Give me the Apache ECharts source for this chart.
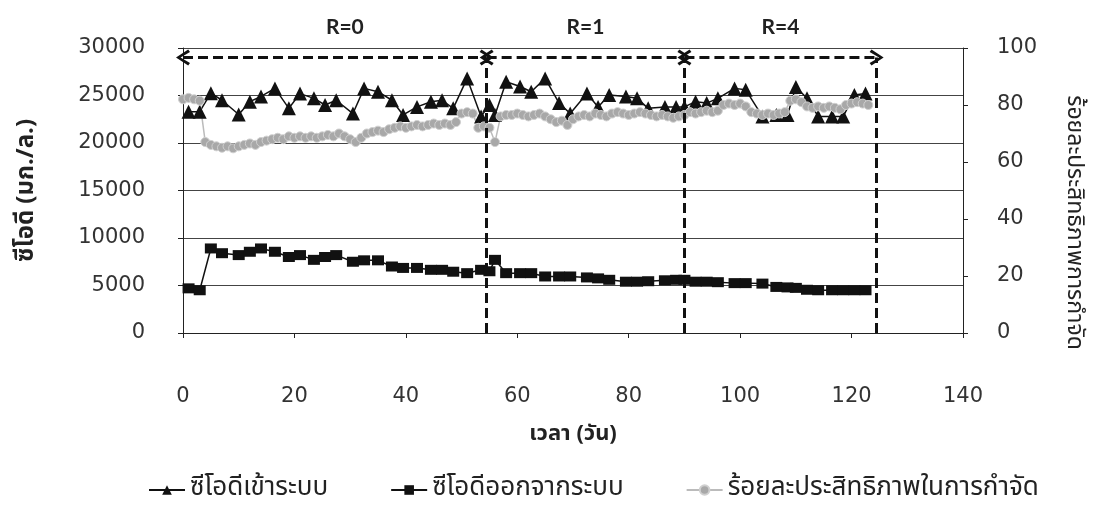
<!DOCTYPE html>
<html>
<head>
<meta charset="utf-8">
<script src="https://cdn.jsdelivr.net/npm/echarts@6/dist/echarts.min.js"></script>
<style>
  html, body { margin: 0; padding: 0; background: #fff; }
  #chart { width: 1107px; height: 514px; }
</style>
</head>
<body>
<div id="chart"></div>
<script>
// วันที่ของจุดซีโอดี (วัน)
const codDays = [1, 3, 5, 7, 10, 12, 14, 16.5, 19, 21, 23.5, 25.5, 27.5, 30.5, 32.5, 35, 37.5, 39.5, 42, 44.5,
    46.5, 48.5, 51, 53.5, 55, 56, 58, 60.5, 62.5, 65, 67.5, 69.5, 72.5, 74.5, 76.5, 79.5, 81.5, 83.5, 86.5, 88.5,
    90, 92, 94, 96, 99, 101, 104, 106.5, 108.5, 110, 112, 114, 116.5, 118.5, 120.5, 122.5];

// ซีโอดีเข้าระบบ (มก./ล.)
const codIn = [23300, 23300, 25250, 24500, 23000, 24350, 24900, 25750, 23650, 25200, 24700, 24000, 24500, 23100,
    25750, 25400, 24500, 22950, 23800, 24350, 24500, 23650, 26800, 22800, 24000, 22950, 26450, 25950, 25400, 26800,
    24200, 23100, 25200, 23800, 25050, 24900, 24700, 23650, 23800, 23800, 23800, 24350, 24200, 24700, 25750, 25600,
    22800, 22950, 22950, 25900, 24700, 22800, 22800, 22800, 25050, 25200];

// ซีโอดีออกจากระบบ (มก./ล.)
const codOut = [4700, 4500, 8900, 8400, 8200, 8550, 8900, 8550, 8000, 8200, 7700, 8000, 8200, 7500, 7650, 7650,
    7000, 6850, 6850, 6650, 6650, 6450, 6300, 6650, 6500, 7700, 6300, 6300, 6300, 5950, 5950, 5950, 5850, 5750,
    5600, 5400, 5400, 5450, 5550, 5600, 5600, 5400, 5400, 5350, 5250, 5250, 5200, 4850, 4800, 4750, 4550, 4500,
    4500, 4500, 4500, 4500];

// ร้อยละประสิทธิภาพ รายวัน เริ่มวันที่ 0
const efficiency = [82, 82.5, 82, 81.5, 67, 66, 65.5, 65, 65.5, 64.8, 65.5, 66, 66.5, 66, 67,
    67.5, 68, 68.5, 68, 69, 68.5, 69, 68.5, 69, 68.5, 69, 69.5, 69, 70, 69, 68, 67, 68.5, 70,
    70.5, 71, 70.5, 71.5, 72, 72.5, 72, 72.5, 73, 72.5, 73, 73.5, 73, 73.5, 73, 74, 77, 77.5, 77,
    72, 72.5, 72, 67, 76, 76.5, 76.5, 77, 76.5, 76, 76.5, 77, 76, 75, 74, 74.5, 73,
    75, 76, 76.5, 76, 77, 76.5, 76, 77, 77.5, 77, 76.5, 77, 77.5, 77, 76.5, 76, 76.5, 76, 75.5, 76,
    76.5, 77.5, 77, 77.5, 78, 77.5, 78, 80, 80.5, 80, 80.5, 79.5, 77.5, 77, 76.5, 77, 76.5, 77, 77.5,
    81.5, 82, 81, 79.5, 79, 79.5, 79, 79.5, 79, 78.5, 80, 80.5, 81, 80.5, 80];

// ช่วงการทดลอง
const phaseBounds = [0, 54.5, 90, 124.5];
const phaseNames = ["R=0", "R=1", "R=4"];
const arrowLevel = 29000;

const thaiFont = "'Noto Sans Thai', 'Noto Sans Thai Looped', 'Noto Sans', 'DejaVu Sans', sans-serif";
const numFont = "'DejaVu Sans', sans-serif";

const chevron = "path://M5,0 L10,8 L8.4,9.2 L5,3 L1.6,9.2 L0,8 Z";

const markData = [];
for (let i = 0; i < phaseNames.length; i++) {
    markData.push([
        { coord: [phaseBounds[i], arrowLevel], symbol: chevron, symbolSize: [16, 14],
          label: { show: true, formatter: phaseNames[i], position: "middle", offset: [i === 0 ? 10 : 0, 0] } },
        { coord: [phaseBounds[i + 1], arrowLevel], symbol: chevron, symbolSize: [16, 14] },
    ]);
}
for (let i = 1; i < phaseBounds.length; i++) {
    markData.push([
        { coord: [phaseBounds[i], 0], symbol: "none", label: { show: false } },
        { coord: [phaseBounds[i], arrowLevel], symbol: "none" },
    ]);
}

const plain = (v) => String(v);

const chart = echarts.init(document.getElementById("chart"));
chart.setOption({
    animation: false,
    backgroundColor: "#fff",
    grid: { left: 183, right: 144, top: 48, bottom: 181 },
    legend: {
        bottom: 6,
        left: 143,
        itemWidth: 36,
        itemHeight: 12,
        itemGap: 62,
        textStyle: { fontFamily: thaiFont, fontSize: 26, color: "#222" },
        data: ["ซีโอดีเข้าระบบ", "ซีโอดีออกจากระบบ", "ร้อยละประสิทธิภาพในการกำจัด"],
    },
    xAxis: {
        type: "value",
        min: 0,
        max: 140,
        interval: 20,
        name: "เวลา (วัน)",
        nameLocation: "middle",
        nameGap: 92,
        nameTextStyle: { fontFamily: thaiFont, fontSize: 22, fontWeight: "bold", color: "#222" },
        axisLine: { lineStyle: { color: "#222", width: 1 } },
        axisTick: { length: 5, lineStyle: { color: "#222" } },
        axisLabel: { margin: 53, fontFamily: numFont, fontSize: 21, color: "#333", formatter: plain },
        splitLine: { show: false },
    },
    yAxis: [
        {
            type: "value",
            position: "left",
            min: 0,
            max: 30000,
            interval: 5000,
            name: "ซีโอดี (มก./ล.)",
            nameLocation: "middle",
            nameGap: 143,
            nameTextStyle: { fontFamily: thaiFont, fontSize: 24, fontWeight: "bold", color: "#222" },
            axisLine: { show: true, lineStyle: { color: "#222", width: 1 } },
            axisTick: { show: true, length: 5, lineStyle: { color: "#222" } },
            axisLabel: { margin: 38, fontFamily: numFont, fontSize: 21, color: "#333", formatter: plain },
            splitLine: { show: true, lineStyle: { color: "#444", width: 1 } },
        },
        {
            type: "value",
            position: "right",
            min: 0,
            max: 100,
            interval: 20,
            name: "ร้อยละประสิทธิภาพการกำจัด",
            nameLocation: "middle",
            nameGap: 98,
            nameRotate: -90,
            nameTextStyle: { fontFamily: thaiFont, fontSize: 23, color: "#222", padding: [0, 0, 0, 64] },
            axisLine: { show: true, lineStyle: { color: "#222", width: 1 } },
            axisTick: { show: true, length: 5, lineStyle: { color: "#222" } },
            axisLabel: { margin: 34, fontFamily: numFont, fontSize: 21, color: "#333", formatter: plain },
            splitLine: { show: false },
        },
    ],
    series: [
        {
            name: "ซีโอดีเข้าระบบ",
            type: "line",
            yAxisIndex: 0,
            data: codDays.map((d, i) => [d, codIn[i]]),
            symbol: "triangle",
            symbolSize: 14,
            lineStyle: { color: "#111", width: 1.5 },
            itemStyle: { color: "#111" },
            markLine: {
                silent: true,
                animation: false,
                lineStyle: { color: "#111", width: 3, type: [10, 5] },
                label: {
                    fontFamily: "Lato, 'Open Sans', sans-serif",
                    fontSize: 21,
                    fontWeight: "bold",
                    color: "#222",
                    distance: 20,
                },
                emphasis: { disabled: true },
                data: markData,
            },
        },
        {
            name: "ซีโอดีออกจากระบบ",
            type: "line",
            yAxisIndex: 0,
            data: codDays.map((d, i) => [d, codOut[i]]),
            symbol: "rect",
            symbolSize: [12, 10],
            lineStyle: { color: "#111", width: 1.5 },
            itemStyle: { color: "#111" },
        },
        {
            name: "ร้อยละประสิทธิภาพในการกำจัด",
            type: "line",
            yAxisIndex: 1,
            data: efficiency.map((v, i) => [i, v]),
            symbol: "circle",
            symbolSize: 9,
            lineStyle: { color: "#bbb", width: 1.5 },
            itemStyle: { color: "#a8a8a8", borderColor: "#d0d0d0", borderWidth: 1 },
        },
    ],
});
</script>
</body>
</html>
